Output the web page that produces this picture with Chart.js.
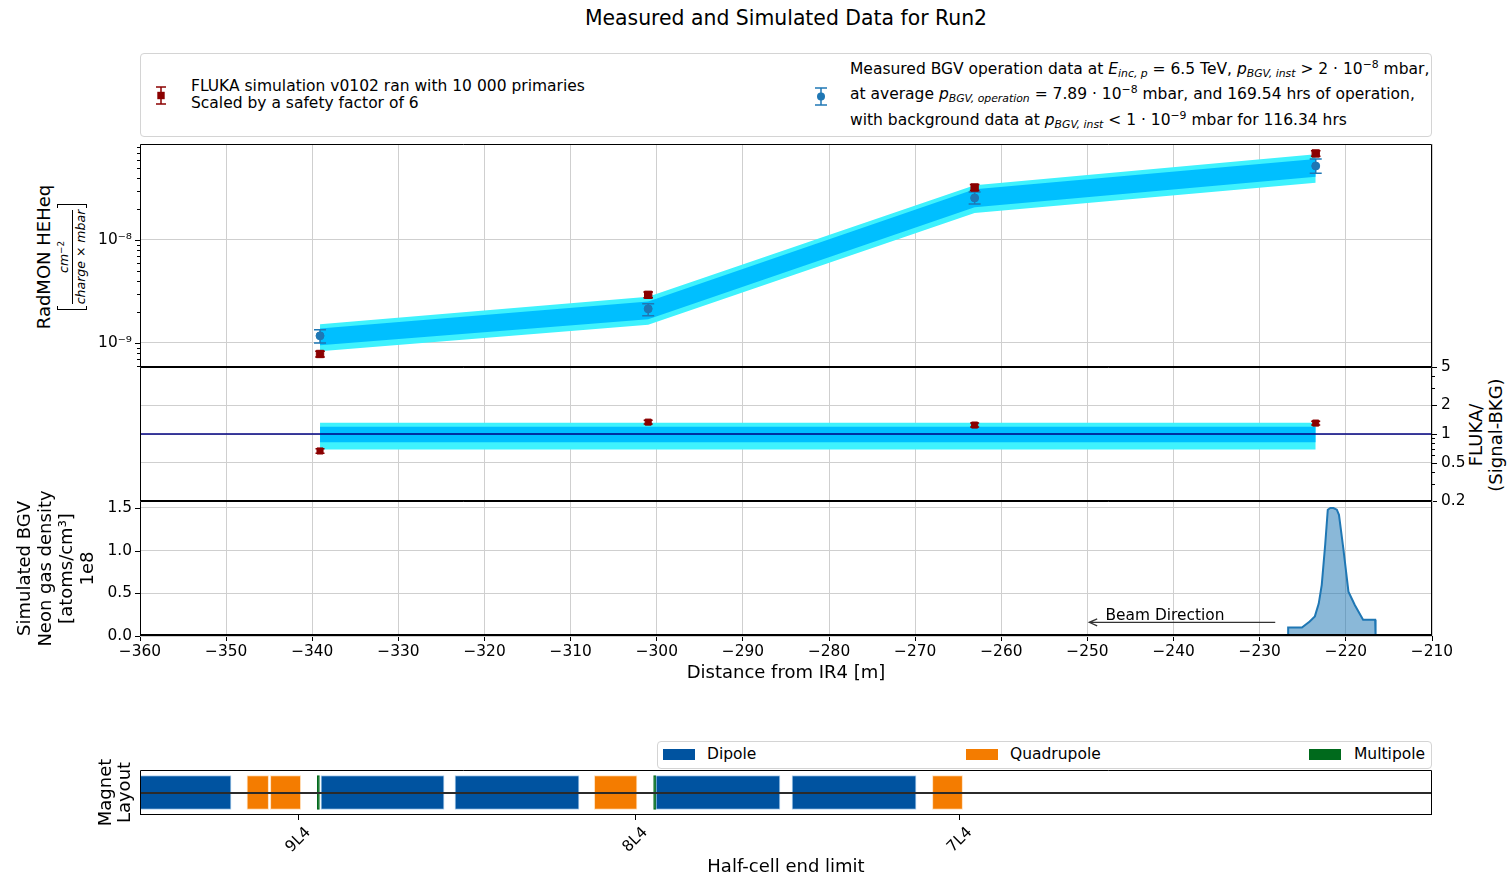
<!DOCTYPE html>
<html lang="en">
<head>
<meta charset="utf-8">
<title>Measured and Simulated Data for Run2</title>
<script src="https://cdn.jsdelivr.net/npm/chart.js@4.4.1/dist/chart.umd.min.js"></script>
<style>
  html, body { margin:0; padding:0; background:#fff; }
  body { position:relative; width:1508px; height:875px; overflow:hidden;
         font-family:'DejaVu Sans', sans-serif; color:#000; }
  canvas { position:absolute; left:0; }
  .abs { position:absolute; white-space:nowrap; }
  #title { left:0; top:7px; width:1572px; text-align:center; font-size:20.4px; line-height:22px; }
  .legendBox { position:absolute; border:1px solid #d4d4d4; border-radius:4px; background:#fff; box-sizing:border-box; }
  .lt { position:absolute; white-space:nowrap; font-size:15.5px; line-height:18px; }
  .lt i { font-style:oblique; }
  .lt .sub { font-size:70%; position:relative; top:0.32em; font-style:oblique; }
  .lt .sup { font-size:70%; position:relative; top:-0.55em; }
  .patch { position:absolute; width:32px; height:11px; }
  .rot { position:absolute; transform:rotate(-90deg); transform-origin:50% 50%; }
  #ylabTop { left:-19px; top:229px; width:160px; height:56px; }
  #ylabTop .l1 { height:22px; line-height:22px; font-size:18px; text-align:center; }
  #ylabTop .row2 { height:34px; display:flex; justify-content:center; align-items:center; }
  .brk { width:4px; height:30px; border-top:1px solid #000; border-bottom:1px solid #000; box-sizing:border-box; }
  .brkL { border-left:1px solid #000; margin-right:2px; }
  .brkR { border-right:1px solid #000; margin-left:2px; }
  .frac { display:flex; flex-direction:column; align-items:center; font-style:oblique; font-size:12.5px; }
  .frac .num { line-height:13px; }
  .frac .den { line-height:13px; border-top:1px solid #000; padding-top:1px; }
  .frac .num span { font-style:normal; font-size:70%; position:relative; top:-0.5em; }
  #ylabRatio { left:1422px; top:414px; width:130px; height:42px; font-size:18px; line-height:20px; text-align:center; }
</style>
</head>
<body>
<div id="title" class="abs">Measured and Simulated Data for Run2</div>

<div class="legendBox" style="left:140px;top:53px;width:1292px;height:84px;"></div>
<svg class="abs" style="left:151px;top:85px" width="20" height="22" viewBox="0 0 20 22">
  <g stroke="#8b0000" stroke-width="1.5"><line x1="10" y1="2" x2="10" y2="19"/><line x1="5" y1="2" x2="15" y2="2"/><line x1="5" y1="19" x2="15" y2="19"/></g>
  <rect x="6.3" y="6.8" width="7.4" height="7.4" fill="#8b0000"/>
</svg>
<div class="lt" style="left:191px;top:77px">FLUKA simulation v0102 ran with 10 000 primaries</div>
<div class="lt" style="left:191px;top:94px">Scaled by a safety factor of 6</div>

<svg class="abs" style="left:811px;top:86px" width="20" height="22" viewBox="0 0 20 22">
  <g stroke="#1f77b4" stroke-width="1.5"><line x1="10" y1="2" x2="10" y2="19"/><line x1="4" y1="2" x2="16" y2="2"/><line x1="4" y1="19" x2="16" y2="19"/></g>
  <circle cx="10" cy="10.5" r="4" fill="#1f77b4"/>
</svg>
<div class="lt" style="left:850px;top:60px">Measured BGV operation data at <i>E</i><span class="sub">inc, p</span> = 6.5 TeV, <i>p</i><span class="sub">BGV, inst</span> &gt; 2 · 10<span class="sup">−8</span> mbar,</div>
<div class="lt" style="left:850px;top:85px">at average <i>p</i><span class="sub">BGV, operation</span> = 7.89 · 10<span class="sup">−8</span> mbar, and 169.54 hrs of operation,</div>
<div class="lt" style="left:850px;top:111px">with background data at <i>p</i><span class="sub">BGV, inst</span> &lt; 1 · 10<span class="sup">−9</span> mbar for 116.34 hrs</div>

<div id="ylabTop" class="rot">
  <div class="l1">RadMON HEHeq</div>
  <div class="row2">
    <div class="brk brkL"></div>
    <div class="frac"><div class="num">cm<span>−2</span></div><div class="den">charge × mbar</div></div>
    <div class="brk brkR"></div>
  </div>
</div>
<div id="ylabRatio" class="rot"><div>FLUKA/</div><div>(Signal-BKG)</div></div>

<div class="legendBox" style="left:657px;top:741px;width:775px;height:28px;"></div>
<div class="patch" style="left:663px;top:749px;background:#0053a0"></div>
<div class="lt" style="left:707px;top:745px">Dipole</div>
<div class="patch" style="left:966px;top:749px;background:#f47c00"></div>
<div class="lt" style="left:1010px;top:745px">Quadrupole</div>
<div class="patch" style="left:1309px;top:749px;background:#006a1c"></div>
<div class="lt" style="left:1354px;top:745px">Multipole</div>

<script>
// ---------- data ----------
const X_MIN = -360, X_MAX = -210;
const xTickStep = 10;

// RadMON positions along the beam line [m]
const positions = [-339.1, -301.0, -263.1, -223.5];

// FLUKA prediction (scaled) with its uncertainty
const flukaValues = [7.8e-10, 2.93e-9, 3.23e-8, 6.92e-8];
const flukaLow    = [7.3e-10, 2.75e-9, 3.03e-8, 6.5e-8];
const flukaHigh   = [8.3e-10, 3.12e-9, 3.45e-8, 7.35e-8];

// measured signal minus background
const measuredValues = [1.17e-9, 2.14e-9, 2.56e-8, 5.23e-8];
const measuredLow    = [1.0e-9, 1.83e-9, 2.24e-8, 4.45e-8];
const measuredHigh   = [1.34e-9, 2.4e-9, 2.93e-8, 6.1e-8];

// uncertainty bands around the measurement
const bandOuterLow  = [8.3e-10, 1.5e-9, 1.83e-8, 3.6e-8];
const bandOuterHigh = [1.52e-9, 2.8e-9, 3.4e-8, 6.8e-8];
const bandInnerLow  = [9.5e-10, 1.7e-9, 2.08e-8, 4.1e-8];
const bandInnerHigh = [1.38e-9, 2.52e-9, 3.1e-8, 6.1e-8];

// ratio FLUKA / (Signal - BKG)
const ratioValues = [0.665, 1.33, 1.24, 1.30];
const ratioLow    = [0.63, 1.27, 1.18, 1.24];
const ratioHigh   = [0.70, 1.39, 1.30, 1.36];
const ratioOuterLow  = [0.69, 0.69, 0.69, 0.69];
const ratioOuterHigh = [1.31, 1.31, 1.31, 1.31];
const ratioInnerLow  = [0.82, 0.82, 0.82, 0.82];
const ratioInnerHigh = [1.19, 1.19, 1.19, 1.19];
const unityX = [X_MIN, X_MAX];
const unityY = [1, 1];

// simulated neon density profile [1e8 atoms/cm^3]
const gasX = [-226.7, -226.7, -225.1, -224.2, -223.6, -223.15, -222.8, -222.4, -222.1, -221.8, -221.45, -221.05, -220.8, -220.3, -219.7, -218.95, -218.0, -216.6, -216.55];
const gasY = [0, 0.10, 0.10, 0.17, 0.23, 0.38, 0.60, 1.07, 1.48, 1.50, 1.50, 1.48, 1.42, 1.03, 0.52, 0.36, 0.19, 0.19, 0];

// beam direction annotation (data coordinates)
const beamArrowFrom = { x: -228.2, y: 0.16 };
const beamArrowTo   = { x: -249.8, y: 0.16 };
const beamLabelAt   = { x: -241.0, y: 0.24 };

// axis ticks
const topMajorTicks = [1e-9, 1e-8];
const topTickLabels = ['10\u207B\u2079', '10\u207B\u2078'];
const topMinorTicks = [6e-10, 7e-10, 8e-10, 9e-10, 2e-9, 3e-9, 4e-9, 5e-9, 6e-9, 7e-9, 8e-9, 9e-9, 2e-8, 3e-8, 4e-8, 5e-8, 6e-8, 7e-8, 8e-8];
const ratioMajorTicks = [0.2, 0.5, 1, 2, 5];
const ratioTickLabels = ['0.2', '0.5', '1', '2', '5'];
const ratioMinorTicks = [0.3, 0.4, 0.6, 0.7, 0.8, 0.9, 3, 4];
const gasMajorTicks = [0, 0.5, 1.0, 1.5];
const gasTickLabels = ['0.0', '0.5', '1.0', '1.5'];

// magnet layout [m]
const dipoleStart = [-363.7, -338.99, -323.43, -300.1, -284.3];
const dipoleEnd   = [-349.43, -324.7, -309.03, -285.7, -269.9];
const quadStart   = [-347.58, -344.86, -307.25, -268.0];
const quadEnd     = [-345.07, -341.34, -302.3, -264.5];
const multiStart  = [-339.42, -300.37];
const multiEnd    = [-339.17, -300.12];
const halfCellPositions = [-341.6, -302.5, -264.8];
const halfCellNames = ['9L4', '8L4', '7L4'];

// ---------- styling ----------
const FONT = "'DejaVu Sans', sans-serif";
const GRID = '#cfcfcf';
const RED = '#8b0000';
const BLUE = '#1f77b4';
const OUTER = '#3ff2fd';
const INNER = '#00bfff';
const TICK_SIZE = 15.4;
const PAD = 22; // room around each panel for its tick labels
Chart.defaults.font.family = FONT;
Chart.defaults.color = '#000';

const pts = (xs, ys) => xs.map((x, i) => ({ x: x, y: ys[i] }));
const fmtX = v => { const r = Math.round(v); return r < 0 ? '\u2212' + Math.abs(r) : String(r); };

function makeCanvas(id, top, height) {
  const c = document.createElement('canvas');
  c.id = id; c.width = 1508; c.height = height;
  c.style.top = top + 'px'; c.style.width = '1508px'; c.style.height = height + 'px';
  document.body.appendChild(c);
  return c.getContext('2d');
}

// ---------- plugins ----------
const errorBars = {
  id: 'errorBars',
  beforeDatasetDraw(chart, args) {
    const ds = chart.data.datasets[args.index];
    if (!ds.errLow) return;
    const xs = chart.scales[args.meta.xAxisID], ys = chart.scales[args.meta.yAxisID];
    const ctx = chart.ctx;
    ctx.save();
    ctx.strokeStyle = ds.errColor; ctx.lineWidth = 1.5;
    ds.data.forEach((p, i) => {
      const x = xs.getPixelForValue(p.x);
      const lo = ys.getPixelForValue(ds.errLow[i]);
      const hi = ys.getPixelForValue(ds.errHigh[i]);
      const c = ds.capHalf;
      ctx.beginPath();
      ctx.moveTo(x, lo); ctx.lineTo(x, hi);
      ctx.moveTo(x - c, lo); ctx.lineTo(x + c, lo);
      ctx.moveTo(x - c, hi); ctx.lineTo(x + c, hi);
      ctx.stroke();
    });
    ctx.restore();
  }
};

const frame = {
  id: 'frame',
  afterDraw(chart, args, opts) {
    const a = chart.chartArea, ctx = chart.ctx;
    const l = Math.round(a.left) + 0.5, r = Math.round(a.right) - 0.5;
    const t = Math.round(a.top) + 0.5, b = Math.round(a.bottom) - 0.5;
    ctx.save();
    ctx.strokeStyle = '#000'; ctx.lineWidth = 1;
    ctx.beginPath();
    ctx.moveTo(l, t); ctx.lineTo(r, t); ctx.lineTo(r, b);
    ctx.moveTo(l, t); ctx.lineTo(l, b);
    ctx.stroke();
    ctx.lineWidth = opts.bottomWidth || 1;
    const bb = Math.round(a.bottom) - ctx.lineWidth / 2;
    ctx.beginPath(); ctx.moveTo(a.left, bb); ctx.lineTo(a.right, bb); ctx.stroke();
    ctx.restore();
  }
};

const axisTickMarks = {
  id: 'axisTickMarks',
  afterDraw(chart, args, opts) {
    const ctx = chart.ctx;
    ctx.save(); ctx.strokeStyle = '#000'; ctx.lineWidth = 1;
    (opts.axes || []).forEach(cfg => {
      const s = chart.scales[cfg.id];
      const x0 = cfg.side === 'left' ? chart.chartArea.left : chart.chartArea.right;
      const dir = cfg.side === 'left' ? -1 : 1;
      const mark = (vals, len) => vals.forEach(v => {
        const y = Math.round(s.getPixelForValue(v)) + 0.5;
        ctx.beginPath(); ctx.moveTo(x0, y); ctx.lineTo(x0 + dir * len, y); ctx.stroke();
      });
      mark(cfg.major, 5);
      mark(cfg.minor || [], 3);
    });
    ctx.restore();
  }
};

const beamArrow = {
  id: 'beamArrow',
  afterDatasetsDraw(chart) {
    const xs = chart.scales.x, ys = chart.scales.y, ctx = chart.ctx;
    const x1 = xs.getPixelForValue(beamArrowFrom.x), y1 = ys.getPixelForValue(beamArrowFrom.y);
    const x2 = xs.getPixelForValue(beamArrowTo.x), y2 = ys.getPixelForValue(beamArrowTo.y);
    ctx.save();
    ctx.strokeStyle = '#333'; ctx.lineWidth = 1.2;
    ctx.beginPath(); ctx.moveTo(x1, y1); ctx.lineTo(x2, y2);
    ctx.moveTo(x2 + 8, y2 - 3.5); ctx.lineTo(x2, y2); ctx.lineTo(x2 + 8, y2 + 3.5);
    ctx.stroke();
    ctx.fillStyle = '#000'; ctx.font = TICK_SIZE + 'px ' + FONT;
    ctx.textAlign = 'center'; ctx.textBaseline = 'middle';
    ctx.fillText('Beam Direction', xs.getPixelForValue(beamLabelAt.x), ys.getPixelForValue(beamLabelAt.y));
    ctx.restore();
  }
};

const magnetAxisExtras = {
  id: 'magnetAxisExtras',
  afterDatasetsDraw(chart) {
    const ctx = chart.ctx, a = chart.chartArea;
    const yc = Math.round(chart.scales.y.getPixelForValue(0)) - 1;
    ctx.save();
    ctx.fillStyle = '#2b2b2b';
    ctx.fillRect(a.left, yc, a.right - a.left, 2);
    ctx.restore();
  },
  afterDraw(chart) {
    const ctx = chart.ctx, xs = chart.scales.x;
    ctx.save();
    ctx.fillStyle = '#000'; ctx.font = TICK_SIZE + 'px ' + FONT;
    ctx.textAlign = 'center'; ctx.textBaseline = 'middle';
    halfCellPositions.forEach((v, i) => {
      ctx.save();
      ctx.translate(xs.getPixelForValue(v), chart.chartArea.bottom + 25);
      ctx.rotate(-Math.PI / 4);
      ctx.fillText(halfCellNames[i], 0, 0);
      ctx.restore();
    });
    ctx.restore();
  }
};

const common = {
  responsive: false, animation: false, devicePixelRatio: 1, events: []
};
const basePlugins = { legend: { display: false }, tooltip: { enabled: false } };

function hiddenX() {
  return {
    type: 'linear', min: X_MIN, max: X_MAX,
    ticks: { stepSize: xTickStep, display: false },
    grid: { color: GRID, drawTicks: false },
    border: { display: false },
    afterFit: s => { s.height = 0; }
  };
}

function bandSet(xs, ys, color, fillNext) {
  return { data: pts(xs, ys), showLine: true, borderWidth: 0, borderColor: 'transparent',
           pointRadius: 0, fill: fillNext ? '+1' : false, backgroundColor: color };
}

// ---------- top panel: RadMON HEHeq (plot area 144..367) ----------
new Chart(makeCanvas('radmonChart', 144 - PAD, 367 - 144 + 2 * PAD), {
  type: 'scatter',
  data: { datasets: [
    { data: pts(positions, flukaValues), pointStyle: 'rect', pointRadius: 5.2,
      pointBackgroundColor: RED, pointBorderColor: RED, pointBorderWidth: 1,
      errLow: flukaLow, errHigh: flukaHigh, errColor: RED, capHalf: 4.8 },
    { data: pts(positions, measuredValues), pointStyle: 'circle', pointRadius: 4,
      pointBackgroundColor: BLUE, pointBorderColor: BLUE, pointBorderWidth: 1,
      errLow: measuredLow, errHigh: measuredHigh, errColor: BLUE, capHalf: 6 },
    bandSet(positions, bandInnerHigh, INNER, true),
    bandSet(positions, bandInnerLow, INNER, false),
    bandSet(positions, bandOuterHigh, OUTER, true),
    bandSet(positions, bandOuterLow, OUTER, false)
  ]},
  options: Object.assign({}, common, {
    layout: { padding: { top: PAD, bottom: PAD, left: 0, right: 76 }, autoPadding: false },
    scales: {
      x: hiddenX(),
      y: {
        type: 'logarithmic', position: 'left', min: 5.83e-10, max: 8.55e-8,
        afterFit: s => { s.width = 140; },
        afterBuildTicks: s => { s.ticks = topMajorTicks.map(v => ({ value: v })); },
        ticks: { callback: (v, i) => topTickLabels[i], font: { size: TICK_SIZE }, padding: 8, color: '#000' },
        grid: { color: GRID, drawTicks: false },
        border: { display: false }
      }
    },
    plugins: Object.assign({}, basePlugins, {
      frame: {},
      axisTickMarks: { axes: [{ id: 'y', side: 'left', major: topMajorTicks, minor: topMinorTicks }] }
    })
  }),
  plugins: [errorBars, frame, axisTickMarks]
});

// ---------- middle panel: ratio (plot area 367..501) ----------
new Chart(makeCanvas('ratioChart', 367 - PAD, 501 - 367 + 2 * PAD), {
  type: 'scatter',
  data: { datasets: [
    { data: pts(positions, ratioValues), pointStyle: 'rect', pointRadius: 4.3,
      pointBackgroundColor: RED, pointBorderColor: RED, pointBorderWidth: 1,
      errLow: ratioLow, errHigh: ratioHigh, errColor: RED, capHalf: 4.5 },
    { data: pts(unityX, unityY), showLine: true, borderColor: '#000080', borderWidth: 1.5, pointRadius: 0, fill: false },
    bandSet(positions, ratioInnerHigh, INNER, true),
    bandSet(positions, ratioInnerLow, INNER, false),
    bandSet(positions, ratioOuterHigh, OUTER, true),
    bandSet(positions, ratioOuterLow, OUTER, false)
  ]},
  options: Object.assign({}, common, {
    layout: { padding: { top: PAD, bottom: PAD, left: 140, right: 0 }, autoPadding: false },
    scales: {
      x: hiddenX(),
      y: {
        type: 'logarithmic', position: 'right', min: 0.2, max: 5,
        afterFit: s => { s.width = 76; },
        afterBuildTicks: s => { s.ticks = ratioMajorTicks.map(v => ({ value: v })); },
        ticks: { callback: (v, i) => ratioTickLabels[i], font: { size: TICK_SIZE }, padding: 9, color: '#000' },
        grid: { color: GRID, drawTicks: false },
        border: { display: false }
      }
    },
    plugins: Object.assign({}, basePlugins, {
      frame: {},
      axisTickMarks: { axes: [{ id: 'y', side: 'right', major: ratioMajorTicks, minor: ratioMinorTicks }] }
    })
  }),
  plugins: [errorBars, frame, axisTickMarks]
});

// ---------- bottom panel: simulated gas density (plot area 501..636) ----------
const GAS_XAXIS_H = 54;
new Chart(makeCanvas('gasChart', 501 - PAD, 636 - 501 + PAD + GAS_XAXIS_H), {
  type: 'scatter',
  data: { datasets: [
    { data: pts(gasX, gasY), showLine: true, borderColor: BLUE, borderWidth: 2,
      backgroundColor: 'rgba(31,119,180,0.52)', fill: 'origin', pointRadius: 0, tension: 0 }
  ]},
  options: Object.assign({}, common, {
    layout: { padding: { top: PAD, bottom: 0, left: 0, right: 76 }, autoPadding: false },
    scales: {
      x: {
        type: 'linear', min: X_MIN, max: X_MAX,
        afterFit: s => { s.height = GAS_XAXIS_H; },
        ticks: { stepSize: xTickStep, callback: v => fmtX(v), font: { size: TICK_SIZE }, padding: 2,
                 maxRotation: 0, autoSkip: false, color: '#000' },
        grid: { color: GRID, drawTicks: true, tickLength: 5, tickColor: '#000', tickWidth: 1 },
        border: { display: false },
        title: { display: true, text: 'Distance from IR4 [m]', font: { size: 18 }, padding: { top: 0, bottom: 6 }, color: '#000' }
      },
      y: {
        type: 'linear', position: 'left', min: 0, max: 1.582,
        afterFit: s => { s.width = 140; },
        afterBuildTicks: s => { s.ticks = gasMajorTicks.map(v => ({ value: v })); },
        ticks: { callback: (v, i) => gasTickLabels[i], font: { size: TICK_SIZE }, padding: 8, color: '#000' },
        grid: { color: GRID, drawTicks: false },
        border: { display: false },
        title: { display: true, text: ['Simulated BGV', 'Neon gas density', '[atoms/cm\u00B3]', '1e8'],
                 font: { size: 18, lineHeight: '21px' }, padding: { top: 14.5, bottom: 0 }, color: '#000' }
      }
    },
    plugins: Object.assign({}, basePlugins, {
      frame: { bottomWidth: 2 },
      axisTickMarks: { axes: [{ id: 'y', side: 'left', major: gasMajorTicks }] }
    })
  }),
  plugins: [frame, axisTickMarks, beamArrow]
});

// ---------- magnet layout ----------
function magnetSet(label, starts, ends, color, edge) {
  return {
    label: label,
    data: starts.map((s, i) => ({ x: [s, ends[i]], y: 'Layout' })),
    backgroundColor: color, borderColor: edge, borderWidth: 1, borderSkipped: false,
    grouped: false, barThickness: 34
  };
}

new Chart(makeCanvas('magnetChart', 735, 145), {
  type: 'bar',
  data: { labels: ['Layout'], datasets: [
    magnetSet('Dipole', dipoleStart, dipoleEnd, '#0053a0', 'rgba(170,205,235,0.9)'),
    magnetSet('Quadrupole', quadStart, quadEnd, '#f47c00', 'rgba(255,220,180,0.9)'),
    magnetSet('Multipole', multiStart, multiEnd, '#006a1c', '#006a1c')
  ]},
  options: Object.assign({}, common, {
    indexAxis: 'y',
    layout: { padding: { top: 35, bottom: 0, left: 0, right: 76 }, autoPadding: false },
    scales: {
      x: {
        type: 'linear', min: X_MIN, max: X_MAX,
        afterFit: s => { s.height = 65; },
        afterBuildTicks: s => { s.ticks = halfCellPositions.map(v => ({ value: v })); },
        ticks: { display: false },
        grid: { drawOnChartArea: false, drawTicks: true, tickLength: 5, tickColor: '#000', color: '#000' },
        border: { display: false },
        title: { display: true, text: 'Half-cell end limit', font: { size: 18 }, padding: { top: 0, bottom: 2 }, color: '#000' }
      },
      y: {
        type: 'category',
        afterFit: s => { s.width = 140; },
        ticks: { display: false },
        grid: { display: false },
        border: { display: false },
        title: { display: true, text: ['Magnet', 'Layout'], font: { size: 18, lineHeight: '19px' },
                 padding: { top: 96.5, bottom: 0 }, color: '#000' }
      }
    },
    plugins: Object.assign({}, basePlugins, { frame: {} })
  }),
  plugins: [magnetAxisExtras, frame]
});
</script>
</body>
</html>
